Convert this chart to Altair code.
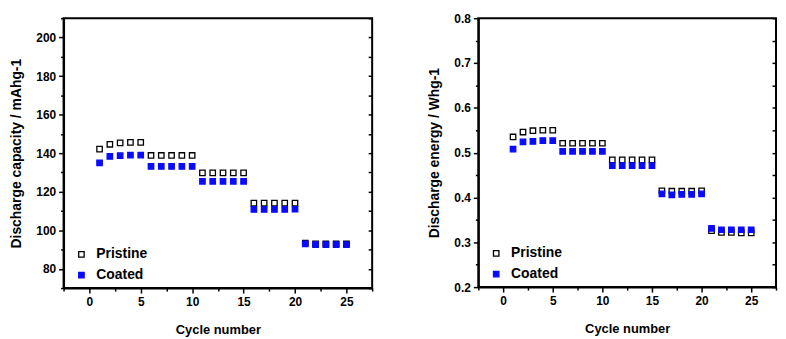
import altair as alt
import pandas as pd

cycles = list(range(1, 26))
series_names = ["Pristine", "Coated"]

cap_pristine = [142.1, 144.6, 145.3, 145.6, 145.6,
                138.8, 138.8, 138.8, 138.8, 138.8,
                129.8, 129.8, 129.8, 129.8, 129.8,
                114.1, 114.1, 114.1, 114.1, 114.1,
                93.4, 93.0, 92.9, 92.9, 92.9]
cap_coated = [135.0, 138.3, 138.7, 139.0, 139.0,
              133.1, 133.1, 133.1, 133.1, 133.1,
              125.4, 125.4, 125.4, 125.4, 125.4,
              110.8, 110.8, 110.8, 110.8, 110.9,
              93.0, 92.6, 92.6, 92.6, 92.5]

en_pristine = [0.535, 0.546, 0.549, 0.550, 0.550,
               0.521, 0.521, 0.521, 0.521, 0.521,
               0.484, 0.484, 0.484, 0.484, 0.484,
               0.415, 0.414, 0.414, 0.414, 0.415,
               0.326, 0.322, 0.322, 0.321, 0.321]
en_coated = [0.508, 0.524, 0.525, 0.527, 0.527,
             0.503, 0.503, 0.503, 0.503, 0.503,
             0.471, 0.471, 0.471, 0.471, 0.471,
             0.408, 0.406, 0.407, 0.407, 0.408,
             0.331, 0.328, 0.328, 0.328, 0.328]

x_ticks = [-2.5 + 2.5 * i for i in range(13)]
cap_ticks = list(range(70, 211, 10))
en_ticks = [round(0.2 + 0.05 * i, 2) for i in range(13)]

cap_df = pd.DataFrame({
    "cycle": cycles + cycles,
    "value": cap_pristine + cap_coated,
    "series": ["Pristine"] * 25 + ["Coated"] * 25,
})
en_df = pd.DataFrame({
    "cycle": cycles + cycles,
    "value": en_pristine + en_coated,
    "series": ["Pristine"] * 25 + ["Coated"] * 25,
})

FONT = "Liberation Sans, Arial, sans-serif"


def make_legend(xy):
    return alt.Legend(
        title=None,
        orient="none",
        legendX=xy[0],
        legendY=xy[1],
        symbolType="square",
        symbolSize=30,
        symbolStrokeWidth=1.3,
        labelFontSize=14,
        labelFont=FONT,
        labelFontWeight="bold",
        labelColor="black",
        rowPadding=7,
        labelOffset=8,
    )


def panel(df, ytitle, ydomain, yticks, major_test, yformat, legend_xy):
    x = alt.X(
        "cycle:Q",
        scale=alt.Scale(domain=[-2.5, 27.5], nice=False, zero=False),
        axis=alt.Axis(
            title="Cycle number",
            values=x_ticks,
            labelExpr="datum.value % 5 == 0 ? datum.label : ''",
            tickSize={"condition": {"test": "datum.value % 5 != 0", "value": 3}, "value": 5},
            format="d",
            grid=False,
            labelPadding=4,
            titlePadding=16,
        ),
    )
    y = alt.Y(
        "value:Q",
        scale=alt.Scale(domain=ydomain, nice=False, zero=False),
        axis=alt.Axis(
            title=ytitle,
            values=yticks,
            labelExpr=f"({major_test}) ? datum.label : ''",
            tickSize={"condition": {"test": f"!({major_test})", "value": 3}, "value": 5},
            format=yformat,
            grid=False,
            titlePadding=12,
            titleFontSize=14,
        ),
    )
    pts = alt.Chart(df).mark_square(size=30, strokeWidth=1.3, opacity=1).encode(
        x=x,
        y=y,
        fill=alt.Fill(
            "series:N",
            scale=alt.Scale(domain=series_names, range=["white", "#0a0aff"]),
            sort=series_names,
            legend=make_legend(legend_xy),
        ),
        stroke=alt.Stroke(
            "series:N",
            scale=alt.Scale(domain=series_names, range=["black", "#0a0aff"]),
            sort=series_names,
            legend=make_legend(legend_xy),
        ),
    )
    mirror = alt.Chart(df).mark_point(opacity=0).encode(
        y=alt.Y(
            "value:Q",
            scale=alt.Scale(domain=ydomain, nice=False, zero=False),
            axis=alt.Axis(
                orient="right",
                title=None,
                labels=False,
                domain=False,
                values=yticks,
                tickSize={"expr": "-4"},
                grid=False,
            ),
        ),
    )
    return alt.layer(pts, mirror).resolve_axis(y="independent")


left = panel(cap_df, "Discharge capacity / mAhg-1", [70, 210], cap_ticks,
             "datum.value % 20 == 0", "d", (11, 231)).properties(width=311, height=272)
right = panel(en_df, "Discharge energy / Whg-1", [0.2, 0.8], en_ticks,
              "abs(datum.value * 10 - round(datum.value * 10)) < 0.01", ".1f", (11, 230)).properties(width=300, height=271)

chart = alt.hconcat(left, right, spacing=53).resolve_scale(
    fill="independent", stroke="independent"
).resolve_legend(
    fill="independent", stroke="independent"
).properties(
    padding={"left": 0, "top": 2, "right": 0, "bottom": 0}
).configure_view(
    stroke="black", strokeWidth=2
).configure_axis(
    labelFont=FONT,
    labelFontWeight="bold",
    labelFontSize=12,
    labelColor="black",
    titleFont=FONT,
    titleFontWeight="bold",
    titleFontSize=13,
    titleColor="black",
    domainColor="black",
    domainWidth=2,
    tickColor="black",
    tickWidth=1.5,
    labelPadding=3,
)

chart.save("out.html", embed_options={"renderer": "svg", "actions": False})
